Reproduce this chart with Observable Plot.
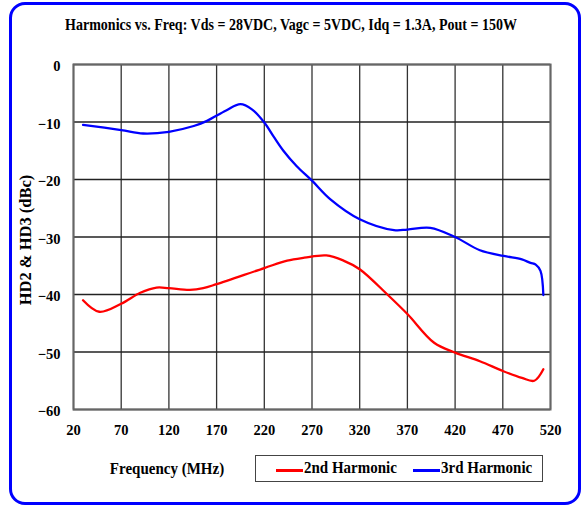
<!DOCTYPE html>
<html>
<head>
<meta charset="utf-8">
<script src="https://cdn.jsdelivr.net/npm/d3@7"></script>
<script src="https://cdn.jsdelivr.net/npm/@observablehq/plot@0.6"></script>
<style>
  html, body { margin: 0; padding: 0; background: #fff; }
  #wrap { position: relative; width: 582px; height: 508px; overflow: hidden; font-family: "Liberation Serif", "Times New Roman", serif; font-weight: bold; color: #000; }
  #border { position: absolute; left: 9px; top: 2px; width: 566px; height: 497px; border: 3px solid #0000ff; border-radius: 16px; }
  #chart { position: absolute; left: 0; top: 0; }
  .txt { position: absolute; white-space: nowrap; }
  #title { left: 0; width: 582px; top: 17px; text-align: center; font-size: 14px; transform: scaleY(1.15); }
  #ylab { left: 26px; top: 240px; font-size: 16.5px; transform: translate(-50%, -50%) rotate(-90deg) scaleY(1.05); }
  #xlab { left: 167px; top: 469px; font-size: 15px; transform: translate(-50%, -50%) scaleY(1.1); }
  #legend { position: absolute; left: 255px; top: 455px; width: 288px; height: 27px; border: 1.5px solid #444; box-sizing: border-box; font-size: 15px; }
  .sw { position: absolute; top: 13px; height: 2.5px; width: 27px; }
  .lt { position: absolute; top: 4px; transform: scaleY(1.05); }
</style>
</head>
<body>
<div id="wrap">
  <div id="chart"></div>
  <div id="border"></div>
  <div id="title" class="txt">Harmonics vs. Freq: Vds = 28VDC, Vagc = 5VDC, Idq = 1.3A, Pout = 150W</div>
  <div id="ylab" class="txt">HD2 &amp; HD3 (dBc)</div>
  <div id="xlab" class="txt">Frequency (MHz)</div>
  <div id="legend">
    <div class="sw" style="left:20px;background:#ff0000"></div>
    <div class="lt" style="left:48px">2nd Harmonic</div>
    <div class="sw" style="left:157px;background:#0000ff"></div>
    <div class="lt" style="left:185px">3rd Harmonic</div>
  </div>
</div>
<script>
const xTicks = [20, 70, 120, 170, 220, 270, 320, 370, 420, 470, 520];
const yTicks = [0, -10, -20, -30, -40, -50, -60];

const freq2 = [30, 47, 70, 90, 107, 120, 142, 156, 170, 220, 244, 262, 285, 303, 320, 349, 370, 398, 420, 446, 470, 490, 503, 512.5];
const hd2   = [-41.0, -43.0, -41.6, -39.7, -38.8, -38.9, -39.2, -38.9, -38.2, -35.4, -34.1, -33.6, -33.2, -34.1, -35.6, -40.0, -43.4, -48.4, -50.1, -51.6, -53.3, -54.5, -55.0, -53.0];

const freq3 = [30, 70, 93, 120, 146, 160, 180, 195, 207, 220, 230, 240, 254, 270, 289, 320, 356, 370, 394, 420, 446, 471, 490, 499, 504.5, 509.5, 512.5];
const hd3   = [-10.5, -11.4, -12.0, -11.7, -10.7, -9.8, -8.0, -6.9, -7.8, -10.1, -12.6, -15.0, -17.7, -20.2, -23.4, -26.9, -28.8, -28.7, -28.4, -30.0, -32.3, -33.3, -33.9, -34.5, -34.8, -35.9, -40.1];

const d2 = freq2.map((f, i) => ({f, v: hd2[i]}));
const d3 = freq3.map((f, i) => ({f, v: hd3[i]}));

const chart = Plot.plot({
  width: 582,
  height: 508,
  marginLeft: 73,
  marginRight: 32,
  marginTop: 64,
  marginBottom: 99,
  style: { fontFamily: "'Liberation Serif', 'Times New Roman', serif", fontSize: "14.5px", fontWeight: "bold", color: "#000", background: "transparent" },
  x: { domain: [20, 520], ticks: xTicks },
  y: { domain: [-60, 0], ticks: yTicks },
  marks: [
    Plot.gridX(xTicks, { stroke: "#333", strokeOpacity: 1, strokeWidth: 1.3 }),
    Plot.gridY(yTicks, { stroke: "#222", strokeOpacity: 1, strokeWidth: 1.3 }),
    Plot.frame({ stroke: "#666", strokeWidth: 2 }),
    Plot.line(d2, { x: "f", y: "v", stroke: "#ff0000", strokeWidth: 2.3, curve: "catmull-rom" }),
    Plot.line(d3, { x: "f", y: "v", stroke: "#0000ff", strokeWidth: 2.3, curve: "catmull-rom" }),
    Plot.axisX(xTicks, { tickSize: 0, tickPadding: 15, label: null, fontSize: 14.5, fontWeight: "bold" }),
    Plot.axisY(yTicks, { tickSize: 0, tickPadding: 13, label: null, fontSize: 14.5, fontWeight: "bold", dy: 2 })
  ]
});
document.getElementById("chart").appendChild(chart);
</script>
</body>
</html>
